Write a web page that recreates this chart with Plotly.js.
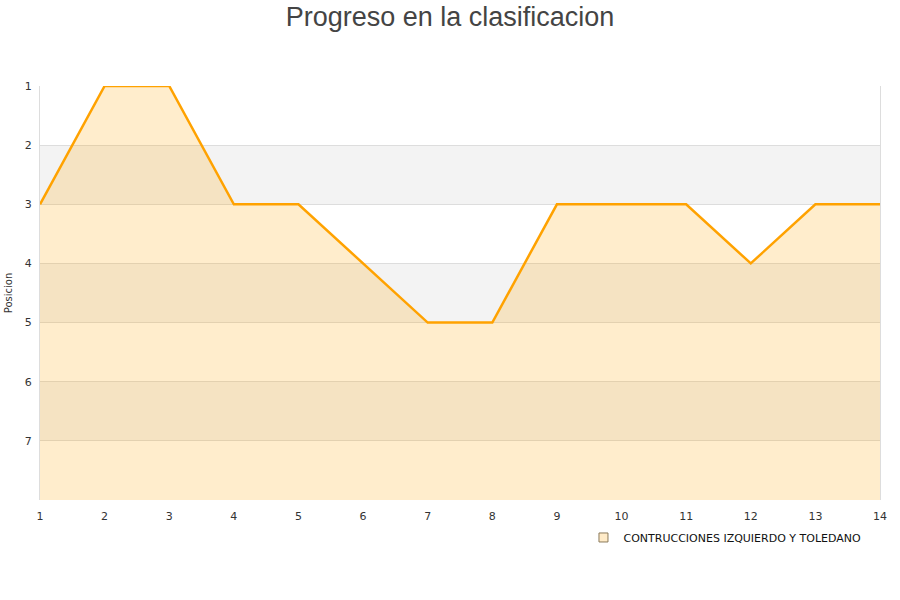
<!DOCTYPE html>
<html><head><meta charset="utf-8">
<script src="https://cdn.plot.ly/plotly-3.0.1.min.js"></script>
<style>body{margin:0;background:#fff}#c{width:900px;height:600px}</style>
</head><body><div id="c"></div>
<script>
const jornadas = [1,2,3,4,5,6,7,8,9,10,11,12,13,14];
const posiciones = [3,1,1,3,3,4,5,5,3,3,3,4,3,3];
const equipo = "CONTRUCCIONES IZQUIERDO Y TOLEDANO";
const yTicks = [1,2,3,4,5,6,7];
const fondo = 8;

const traces = [
  {x: jornadas, y: jornadas.map(()=>fondo), mode:'lines', line:{width:0}, showlegend:false, hoverinfo:'skip'},
  {x: jornadas, y: posiciones, mode:'lines', fill:'tonexty', fillcolor:'rgba(255,165,0,0.2)',
   line:{color:'#FFA200', width:2.5}, showlegend:false, name: equipo},
  {x:[null], y:[null], mode:'markers', name: equipo,
   marker:{symbol:'square', size:9, color:'#FFEBC8', line:{color:'#8a7a5a', width:1}}}
];
const shapes = [[2,3],[4,5],[6,7]].map(b=>({type:'rect', xref:'paper', x0:0, x1:1, yref:'y', y0:b[0], y1:b[1],
  fillcolor:'#f3f3f3', line:{width:0}, layer:'below'}));
const layout = {
  width:900, height:600,
  margin:{l:40, r:20, t:86, b:100},
  paper_bgcolor:'#fff', plot_bgcolor:'#fff',
  font:{family:'DejaVu Sans, sans-serif', color:'#333', size:11},
  title:{text:'Progreso en la clasificacion', x:0.5, xanchor:'center', y:0.988, yanchor:'top',
    font:{family:'Liberation Sans, Arial, sans-serif', size:27, color:'#444'}},
  xaxis:{range:[1,14], tickvals:jornadas, showgrid:false, zeroline:false, showline:false,
    ticks:'outside', ticklen:6, tickcolor:'rgba(0,0,0,0)', tickfont:{size:11, color:'#333'}},
  yaxis:{range:[fondo,1], tickvals:yTicks, showgrid:true, gridcolor:'#dddddd', zeroline:false,
    showline:true, mirror:true, linecolor:'#dddddd', ticks:'outside', ticklen:5, tickcolor:'rgba(0,0,0,0)',
    tickfont:{size:11, color:'#333'},
    title:{text:'Posicion', font:{size:10, color:'#333'}, standoff:10}},
  shapes: shapes,
  showlegend:true,
  legend:{orientation:'h', x:0.647, xanchor:'left', y:-0.0555, yanchor:'top', font:{size:11, color:'#111'},
    bgcolor:'rgba(0,0,0,0)'},
  hovermode:false
};
Plotly.newPlot('c', traces, layout, {displayModeBar:false, staticPlot:true});
</script></body></html>
